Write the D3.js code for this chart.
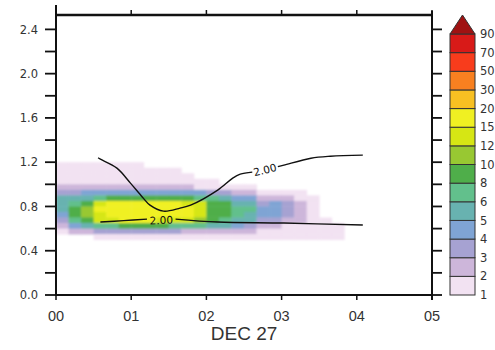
<!DOCTYPE html>
<html>
<head>
<meta charset="utf-8">
<script src="https://cdn.jsdelivr.net/npm/d3@7"></script>
<style>
  body { margin: 0; background: #fff; }
  svg { display: block; }
</style>
</head>
<body>
<div id="chart"></div>
<script>
// axis ticks
const hourLabels = ['00', '01', '02', '03', '04', '05'];
const valueTicks = [0, 0.4, 0.8, 1.2, 1.6, 2.0, 2.4];
const minorTicks = [0, 0.2, 0.4, 0.6, 0.8, 1.0, 1.2, 1.4, 1.6, 1.8, 2.0, 2.2, 2.4];

// colour levels
const levelBounds = [1, 2, 3, 4, 5, 6, 8, 10, 12, 15, 20, 30, 50, 70, 90];
const levelColors = ['#f2e2f2', '#cdb6da', '#a6a2d2', '#7fa4d4', '#68b2b0', '#62c08c',
  '#4fae4a', '#98c832', '#d6e614', '#f0f022', '#f8c022', '#f88020', '#f83c1c', '#d81a18'];
const overColor = '#a01212';

// grid: column start (minutes after 00), row bottom (value), cells row by row (top first)
const colMinutes = [0, 10, 20, 30, 40, 50, 60, 70, 80, 90, 100, 110, 120, 130, 140, 150, 160, 170, 180, 190, 200, 210, 220];
const rowBottoms = [1.15, 1.10, 1.05, 1.00, 0.95, 0.90, 0.85, 0.80, 0.75, 0.70, 0.65, 0.60, 0.55, 0.50];
const cells = [
  [1.5,1.5,1.5,1.5,1.5,1.5,1.5,0,0,0,0,0,0,0,0,0,0,0,0,0,0,0,0],
  [1.5,1.5,1.5,1.5,1.5,1.5,1.5,1.5,1.5,1.5,0,0,0,0,0,0,0,0,0,0,0,0,0],
  [1.5,1.5,1.5,1.5,1.5,1.5,1.5,1.5,1.5,1.5,1.5,0,0,0,0,0,0,0,0,0,0,0,0],
  [1.5,1.5,1.5,1.5,1.5,1.5,1.5,1.5,1.5,1.5,1.5,1.5,1.5,0,0,0,0,0,0,0,0,0,0],
  [2.5,2.5,2.5,2.5,2.5,2.5,2.5,2.5,2.5,2.5,2.5,1.5,1.5,1.5,1.5,1.5,0,0,0,0,0,0,0],
  [3.5,3.5,4.5,4.5,4.5,4.5,4.5,4.5,4.5,4.5,4.5,4.5,3.5,3.5,2.5,2.5,1.5,1.5,1.5,1.5,0,0,0],
  [5.5,5.5,5.5,7,9,9,9,9,9,9,9,7,7,5.5,4.5,4.5,2.5,2.5,2.5,1.5,1.5,0,0],
  [5.5,7,9,13,17,17,17,17,17,17,13,13,9,9,5.5,5.5,3.5,4.5,3.5,2.5,1.5,0,0],
  [5.5,9,11,17,17,17,17,17,17,17,17,13,9,9,7,7,4.5,4.5,3.5,2.5,1.5,0,0],
  [4.5,9,11,13,17,17,17,17,17,17,17,13,9,9,7,5.5,4.5,4.5,3.5,2.5,1.5,0,0],
  [3.5,7,9,13,13,17,17,17,13,13,13,11,9,7,5.5,5.5,3.5,3.5,2.5,2.5,1.5,1.5,0],
  [2.5,4.5,5.5,7,7,9,9,9,9,7,7,7,5.5,5.5,4.5,3.5,2.5,2.5,1.5,1.5,1.5,1.5,1.5],
  [1.5,2.5,2.5,3.5,3.5,3.5,3.5,3.5,3.5,3.5,2.5,2.5,2.5,2.5,2.5,2.5,1.5,1.5,1.5,1.5,1.5,1.5,1.5],
  [0,0,0,1.5,1.5,1.5,1.5,1.5,1.5,1.5,1.5,1.5,1.5,1.5,1.5,1.5,1.5,1.5,1.5,1.5,1.5,1.5,1.5]
];

// 2.00 contour (hours, value)
const upperLeftHours = [0.56, 0.59, 0.81, 0.99, 1.15, 1.25, 1.43, 1.65, 1.79, 2.15, 2.35, 2.45, 2.61];
const upperLeftValues = [1.24, 1.227, 1.146, 1.011, 0.884, 0.812, 0.758, 0.785, 0.812, 0.948, 1.056, 1.092, 1.11];
const upperRightHours = [2.95, 3.03, 3.39, 3.65, 4.08];
const upperRightValues = [1.16, 1.173, 1.236, 1.254, 1.264];
const lowerLeftHours = [0.59, 0.9, 1.21];
const lowerLeftValues = [0.659, 0.672, 0.686];
const lowerRightHours = [1.59, 2.15, 3.03, 4.08];
const lowerRightValues = [0.686, 0.659, 0.65, 0.632];
const contourLabels = [
  { h: 2.78, v: 1.13, angle: -14, text: '2.00' },
  { h: 1.40, v: 0.675, angle: -2, text: '2.00' }
];

const width = 495, height = 350;
const plotLeft = 56, plotRight = 432, plotTop = 15, plotBottom = 295;

const x = d3.scaleLinear().domain([0, 5]).range([plotLeft, plotRight]);
const y = d3.scaleLinear().domain([0, 2.53]).range([plotBottom, plotTop]);
const color = d3.scaleThreshold().domain(levelBounds).range(['none', ...levelColors, overColor]);

const svg = d3.select('#chart')
  .append('svg')
  .attr('width', width)
  .attr('height', height);

svg.append('defs').append('filter')
  .attr('id', 'soft')
  .attr('x', -0.05).attr('y', -0.1).attr('width', 1.1).attr('height', 1.2)
  .append('feGaussianBlur')
  .attr('stdDeviation', 1.1);

// shaded cells
const cellData = [];
cells.forEach((row, r) => {
  row.forEach((val, c) => {
    if (val > 0) cellData.push({ m: colMinutes[c], v: rowBottoms[r], val });
  });
});

svg.append('g')
  .attr('filter', 'url(#soft)')
  .selectAll('rect')
  .data(cellData)
  .enter()
  .append('rect')
  .attr('x', d => x(d.m / 60))
  .attr('y', d => y(d.v + 0.05))
  .attr('width', d => x((d.m + 10) / 60) - x(d.m / 60) + 0.4)
  .attr('height', d => y(d.v) - y(d.v + 0.05) + 0.4)
  .attr('fill', d => color(d.val));

// contour lines
const line = d3.line()
  .x(d => x(d[0]))
  .y(d => y(d[1]))
  .curve(d3.curveCatmullRom.alpha(0.5));

const segments = [
  [upperLeftHours, upperLeftValues],
  [upperRightHours, upperRightValues],
  [lowerLeftHours, lowerLeftValues],
  [lowerRightHours, lowerRightValues]
];
segments.forEach(([hs, vs]) => {
  svg.append('path')
    .attr('d', line(hs.map((h, i) => [h, vs[i]])))
    .attr('fill', 'none')
    .attr('stroke', '#111')
    .attr('stroke-width', 1.4);
});

svg.selectAll('.clabel')
  .data(contourLabels)
  .enter()
  .append('text')
  .attr('class', 'clabel')
  .attr('transform', d => `translate(${x(d.h)},${y(d.v)}) rotate(${d.angle})`)
  .attr('text-anchor', 'middle')
  .attr('dy', '0.35em')
  .style('font-family', 'DejaVu Sans, sans-serif')
  .style('font-size', '10.5px')
  .style('fill', '#111')
  .text(d => d.text);

// frame
const axisColor = '#111';
svg.append('line').attr('x1', plotLeft).attr('x2', plotLeft).attr('y1', 5).attr('y2', plotBottom)
  .attr('stroke', axisColor).attr('stroke-width', 2);
svg.append('line').attr('x1', plotRight).attr('x2', plotRight).attr('y1', 11).attr('y2', plotBottom + 5)
  .attr('stroke', axisColor).attr('stroke-width', 2);
svg.append('line').attr('x1', plotLeft).attr('x2', plotRight + 1).attr('y1', plotTop).attr('y2', plotTop)
  .attr('stroke', axisColor).attr('stroke-width', 2.4);
svg.append('line').attr('x1', plotLeft - 1).attr('x2', plotRight + 1).attr('y1', plotBottom).attr('y2', plotBottom)
  .attr('stroke', axisColor).attr('stroke-width', 2);

// left / right ticks
svg.append('g').selectAll('line')
  .data(minorTicks).enter().append('line')
  .attr('x1', plotLeft - 11).attr('x2', plotLeft)
  .attr('y1', d => y(d)).attr('y2', d => y(d))
  .attr('stroke', axisColor).attr('stroke-width', 1.8);
svg.append('g').selectAll('line')
  .data(minorTicks).enter().append('line')
  .attr('x1', plotRight).attr('x2', plotRight + 10)
  .attr('y1', d => y(d)).attr('y2', d => y(d))
  .attr('stroke', axisColor).attr('stroke-width', 1.8);

svg.append('g').selectAll('text')
  .data(valueTicks).enter().append('text')
  .attr('x', 38)
  .attr('y', d => y(d))
  .attr('dy', '0.36em')
  .attr('text-anchor', 'end')
  .style('font-family', 'DejaVu Sans, sans-serif')
  .style('font-size', '11.5px')
  .style('fill', '#333')
  .text(d => d.toFixed(1));

// hour ticks
svg.append('g').selectAll('line')
  .data(hourLabels).enter().append('line')
  .attr('x1', (d, i) => x(i)).attr('x2', (d, i) => x(i))
  .attr('y1', plotBottom).attr('y2', plotBottom + 5)
  .attr('stroke', axisColor).attr('stroke-width', 1.5);
svg.append('g').selectAll('line')
  .data(hourLabels).enter().append('line')
  .attr('x1', (d, i) => x(i)).attr('x2', (d, i) => x(i))
  .attr('y1', plotTop - 5).attr('y2', plotTop)
  .attr('stroke', axisColor).attr('stroke-width', 1.5);

svg.append('g').selectAll('text')
  .data(hourLabels).enter().append('text')
  .attr('x', (d, i) => x(i))
  .attr('y', 321)
  .attr('text-anchor', 'middle')
  .style('font-family', 'Liberation Sans, Arial, sans-serif')
  .style('font-size', '14.5px')
  .style('fill', '#333')
  .text(d => d);

svg.append('text')
  .attr('x', 244)
  .attr('y', 340)
  .attr('text-anchor', 'middle')
  .style('font-family', 'Liberation Sans, Arial, sans-serif')
  .style('font-size', '19px')
  .style('fill', '#333')
  .text('DEC 27');

// colour bar
const cb = d3.scaleLinear().domain([0, levelColors.length]).range([295, 34]);
const cbLeft = 450, cbRight = 475;
const bar = svg.append('g');

bar.selectAll('rect')
  .data(levelColors).enter().append('rect')
  .attr('x', cbLeft)
  .attr('y', (d, i) => cb(i + 1))
  .attr('width', cbRight - cbLeft)
  .attr('height', (d, i) => cb(i) - cb(i + 1))
  .attr('fill', d => d)
  .attr('stroke', '#333')
  .attr('stroke-width', 1);

bar.append('path')
  .attr('d', `M${cbLeft},${cb(levelColors.length)} L${(cbLeft + cbRight) / 2},15 L${cbRight},${cb(levelColors.length)} Z`)
  .attr('fill', overColor)
  .attr('stroke', '#333')
  .attr('stroke-width', 1);

bar.selectAll('text')
  .data(levelBounds).enter().append('text')
  .attr('x', 480)
  .attr('y', (d, i) => cb(i))
  .attr('dy', '0.36em')
  .style('font-family', 'DejaVu Sans, sans-serif')
  .style('font-size', '11.5px')
  .style('fill', '#333')
  .text(d => d);
</script>
</body>
</html>
